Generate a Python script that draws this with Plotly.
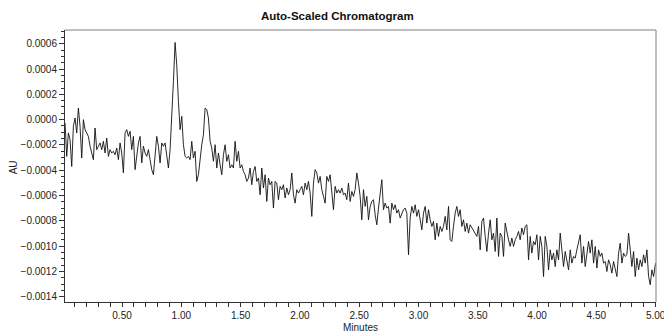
import plotly.graph_objects as go

# Sampling of the trace (minutes)
t_start = 0.0194
t_step = 0.01406

# Absorbance, in units of 1e-4 AU
au_e4_part1 = [-0.26, -2.9, -1.05, -1.58, -3.7, -0.53, 0.13, -1.05, 0.92, -0.53,
               -3.03, 0.0, -0.79, -1.05, -1.32, -2.1, -2.63, -3.16, -0.66, -2.37,
               -2.1, -1.84, -2.37, -1.71, -2.63, -1.45, -2.9, -2.37, -2.63, -2.5,
               -2.77, -2.24, -3.16, -1.84, -2.63, -4.2, -1.05, -0.79, -1.32, -0.92,
               -2.37, -1.32, -3.95, -2.9, -1.84, -1.32, -3.42, -2.1, -2.63, -2.9,
               -2.37, -3.16, -3.95, -4.35, -2.9, -1.32, -2.1, -3.42, -1.84, -2.1,
               -1.84, -2.9, -3.82, -2.37]
au_e4_part2 = [0.0, 3.0, 6.1, 4.3, 1.45, -0.79, 0.26, -1.98, -2.9, -3.03,
               -2.9, -3.16, -1.71, -3.03, -2.5, -4.88, -4.35, -3.03, -1.98, -1.19,
               0.92, 0.79, 0.13, -1.71, -2.24, -3.29, -1.98, -3.82, -2.63, -3.56,
               -4.35, -2.77, -1.98, -3.29, -2.77, -3.82, -3.56, -3.82, -1.71, -3.29,
               -2.5, -3.82, -3.56, -4.09, -4.35, -4.88, -4.61, -3.82, -5.14, -4.09,
               -3.7, -4.88, -4.61, -5.93, -3.82, -5.4, -4.35, -6.46, -4.61, -5.14,
               -4.88, -6.98]
au_e4_part3 = [-4.88, -5.01, -6.32, -5.27, -5.53, -5.14, -6.19, -5.4, -5.93, -5.53,
               -4.21, -5.93, -6.59, -5.53, -5.8, -5.53, -5.27, -5.93, -5.01, -5.53,
               -4.88, -5.8, -7.64, -5.01, -3.95, -4.21, -5.01, -4.48, -5.53, -6.06,
               -6.59, -4.48, -4.88, -4.35, -5.8, -7.11, -5.27, -5.8, -5.53, -5.8,
               -5.4, -5.93, -5.8, -6.32, -5.01, -6.46, -5.67, -6.06, -5.53, -4.21,
               -5.01, -6.06, -7.91, -5.53, -6.85, -6.06, -7.91, -6.85, -6.46, -6.32]
au_e4_part4 = [-7.51, -8.3, -6.98, -6.06, -4.74, -7.11, -6.59, -6.98, -6.85, -8.17,
               -6.59, -7.11, -6.72, -7.38, -7.11, -7.77, -7.38, -7.11, -6.98, -7.38,
               -10.67, -7.77, -6.85, -7.38, -6.72, -7.64, -7.11, -7.77, -8.7, -7.38,
               -6.85, -8.17, -7.11, -7.91, -8.43, -8.04, -9.49, -8.17, -9.22, -8.43,
               -8.83, -8.43, -7.64, -8.7, -6.85, -9.49, -9.62, -8.43, -7.38, -6.85,
               -7.64, -7.11, -8.43, -7.91, -8.83, -8.17, -8.96, -8.3, -8.56, -8.7]
au_e4_part5 = [-8.96, -9.22, -8.43, -10.28, -8.04, -7.77, -9.22, -10.41, -8.96, -7.91,
               -9.49, -8.96, -10.41, -7.77, -10.8, -8.96, -9.22, -10.8, -8.17, -8.96,
               -9.49, -10.01, -9.35, -10.01, -9.49, -9.22, -8.83, -9.49, -8.56, -9.09,
               -8.43, -8.3, -11.07, -9.22, -10.54, -9.62, -9.88, -9.09, -11.07, -9.22,
               -10.01, -12.39, -9.22, -10.01, -11.86, -10.28, -11.07, -10.54, -11.6, -10.28,
               -11.07, -8.96, -10.54, -11.6, -10.41, -11.07, -11.86, -10.28, -11.33, -10.8]
au_e4_part6 = [-10.93, -10.28, -9.75, -9.09, -11.33, -10.01, -11.6, -10.54, -9.62, -10.54,
               -9.49, -11.33, -10.01, -11.72, -10.28, -10.8, -10.54, -11.33, -11.2, -11.99,
               -11.07, -11.46, -12.12, -11.2, -11.72, -12.39, -10.54, -9.75, -11.33, -10.54,
               -10.8, -10.67, -8.96, -10.54, -11.6, -10.41, -12.39, -10.93, -11.86, -11.07,
               -11.6, -10.67, -11.33, -10.28, -12.39, -13.04, -11.86, -12.39, -11.46, -11.2]

au_e4 = au_e4_part1 + au_e4_part2 + au_e4_part3 + au_e4_part4 + au_e4_part5 + au_e4_part6
absorbance = [v * 1e-4 for v in au_e4]
minutes = [t_start + i * t_step for i in range(len(absorbance))]

x_tickvals = [0.5, 1.0, 1.5, 2.0, 2.5, 3.0, 3.5, 4.0, 4.5, 5.0]
y_tickvals = [0.0006, 0.0004, 0.0002, 0.0, -0.0002, -0.0004, -0.0006,
              -0.0008, -0.0010, -0.0012, -0.0014]

fig = go.Figure()
fig.add_trace(go.Scatter(x=minutes, y=absorbance, mode="lines",
                         line=dict(color="#111111", width=0.9),
                         hoverinfo="skip", showlegend=False))

FONT = "Liberation Sans, Arial, sans-serif"

fig.update_layout(
    width=664, height=333,
    margin=dict(l=65, r=8, t=30, b=31),
    paper_bgcolor="white", plot_bgcolor="white",
    font=dict(family=FONT, size=10, color="#222222"),
    title=dict(text="<b>Auto-Scaled Chromatogram</b>", xref="container", x=0.508,
               xanchor="center", yref="container", y=0.952, yanchor="middle",
               font=dict(family=FONT, size=11.5, color="#111111")),
    showlegend=False,
)
fig.update_xaxes(
    range=[0.019, 5.003], tickvals=x_tickvals, tickformat=".2f",
    showgrid=False, zeroline=False, automargin=False,
    ticklabeloverflow="allow",
    showline=True, linecolor="#333333", linewidth=1,
    ticks="outside", ticklen=4, tickcolor="#333333", tickwidth=1,
    minor=dict(dtick=0.1, tick0=0, ticks="outside", ticklen=4,
               tickcolor="#333333", tickwidth=1, showgrid=False),
    tickfont=dict(size=10, color="#222222"),
)
fig.update_yaxes(
    range=[-0.00144, 0.000708], tickvals=y_tickvals, tickformat=".4f",
    showgrid=False, zeroline=False, automargin=False,
    showline=True, linecolor="#333333", linewidth=1,
    ticks="outside", ticklen=5, tickcolor="#333333", tickwidth=1,
    minor=dict(dtick=0.00005, tick0=0, ticks="outside", ticklen=3,
               tickcolor="#333333", tickwidth=1, showgrid=False),
    tickfont=dict(size=10, color="#222222"),
)
# top and right frame lines
fig.add_shape(type="line", xref="paper", yref="paper", x0=0, x1=1, y0=1, y1=1,
              line=dict(color="#808080", width=1))
fig.add_shape(type="line", xref="paper", yref="paper", x0=1, x1=1, y0=0, y1=1,
              line=dict(color="#808080", width=1))

fig.add_annotation(text="AU", xref="paper", yref="paper", x=-0.088, y=0.495,
                   xanchor="center", yanchor="middle", textangle=-90,
                   showarrow=False, font=dict(family=FONT, size=10, color="#222222"))
fig.add_annotation(text="Minutes", xref="paper", yref="paper", x=0.5, y=-0.094,
                   xanchor="center", yanchor="middle",
                   showarrow=False, font=dict(family=FONT, size=10, color="#222222"))

fig.write_html("out.html")
